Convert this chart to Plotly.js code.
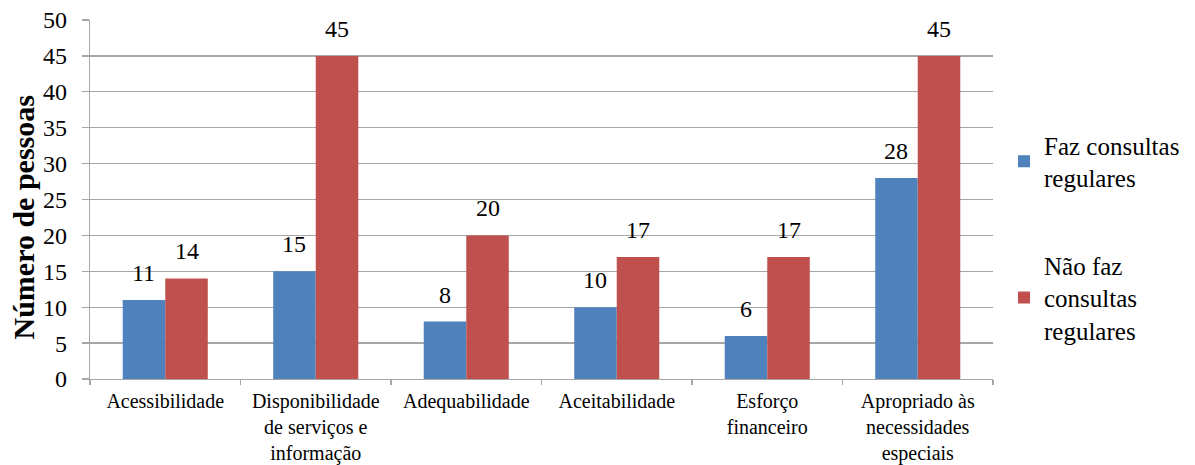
<!DOCTYPE html>
<html><head><meta charset="utf-8">
<script src="https://cdn.plot.ly/plotly-3.0.1.min.js"></script>
<style>html,body{margin:0;padding:0;background:#fff;}#chart{width:1195px;height:465px;}</style>
</head><body><div id="chart"></div>
<script>
const categories = ["Acessibilidade", "Disponibilidade<br>de serviços e<br>informação", "Adequabilidade", "Aceitabilidade", "Esforço<br>financeiro", "Apropriado às<br>necessidades<br>especiais"];
const fazConsultas = [11, 15, 8, 10, 6, 28];
const naoFazConsultas = [14, 45, 20, 17, 17, 45];
const seriesNames = ["Faz consultas<br>regulares", "Não faz<br>consultas<br>regulares"];
const yTicks = [0, 5, 10, 15, 20, 25, 30, 35, 40, 45, 50];
const yTitle = "Número de pessoas";

const FONT = "Liberation Serif";
const BLUE = "#4F81BD", RED = "#C0504D", GRID = "#A6A6A6";
const bargap = 0.435;
const barW = (1 - bargap) / 2; // in category units

const traces = [
  {type: "bar", name: seriesNames[0], x: categories, y: fazConsultas, marker: {color: BLUE}, legendgroup: "a", hoverinfo: "none"},
  {type: "bar", name: seriesNames[1], x: categories, y: naoFazConsultas, marker: {color: RED}, legendgroup: "b", hoverinfo: "none"}
];

const annotations = [];
categories.forEach((c, i) => {
  [[fazConsultas, -barW / 2], [naoFazConsultas, barW / 2]].forEach(([arr, off]) => {
    annotations.push({x: i + off, y: arr[i], xref: "x", yref: "y", text: String(arr[i]), showarrow: false,
      yanchor: "bottom", yshift: 12, font: {family: FONT, size: 24, color: "#000"}});
  });
});
annotations.push({x: 0, y: 0.5, xref: "paper", yref: "paper", xanchor: "center", yanchor: "middle",
  xshift: -67, yshift: -18, textangle: -90, showarrow: false, text: "<b>" + yTitle + "</b>",
  font: {family: FONT, size: 30, color: "#000"}});

const layout = {
  width: 1195, height: 465,
  margin: {l: 90, r: 202, t: 20, b: 86, autoexpand: false},
  paper_bgcolor: "#fff", plot_bgcolor: "#fff",
  font: {family: FONT, color: "#000"},
  barmode: "group", bargap: bargap, bargroupgap: 0,
  showlegend: true,
  legend: {x: (1004 - 90) / (1195 - 90 - 202), xref: "paper", y: 0.715, yanchor: "top", font: {family: FONT, size: 25, color: "#000"},
    traceorder: "grouped", tracegroupgap: 52, itemwidth: 30, borderwidth: 0},
  xaxis: {type: "category", showgrid: false, showline: true, linecolor: GRID, linewidth: 1.3,
    ticks: "outside", tickson: "boundaries", ticklen: 5, tickcolor: GRID, tickwidth: 1.3,
    tickfont: {family: FONT, size: 20, color: "#000"}, tickangle: 0, ticklabelstandoff: 4, fixedrange: true},
  yaxis: {range: [0, 50], tickvals: yTicks, showgrid: true, gridcolor: GRID, gridwidth: 1.3,
    showline: true, linecolor: GRID, linewidth: 1.3, zeroline: false,
    ticks: "outside", ticklen: 7, tickcolor: GRID, tickwidth: 1.3, ticklabelstandoff: 10,
    tickfont: {family: FONT, size: 24, color: "#000"}, fixedrange: true},
  annotations: annotations
};

Plotly.newPlot("chart", traces, layout, {displayModeBar: false, staticPlot: true});
</script></body></html>
